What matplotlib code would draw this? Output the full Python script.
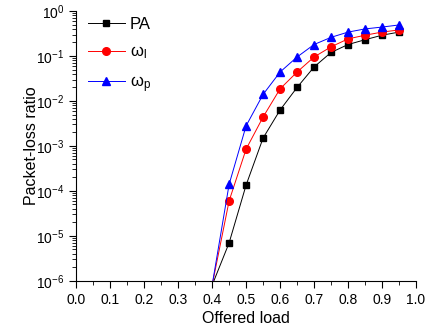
import matplotlib
matplotlib.use("Agg")
import matplotlib.pyplot as plt
from matplotlib.ticker import MultipleLocator

plt.rcParams['font.family'] = ['Liberation Sans', 'DejaVu Sans']
plt.rcParams['mathtext.fontset'] = 'custom'
plt.rcParams['mathtext.rm'] = 'Liberation Sans'
plt.rcParams['mathtext.it'] = 'Liberation Sans:italic'

# offered load
load = [0.40, 0.45, 0.50, 0.55, 0.60, 0.65, 0.70, 0.75, 0.80, 0.85, 0.90, 0.95]

# packet-loss ratio per scheme
pa = [8e-7, 7e-6, 1.35e-4, 1.5e-3, 6.3e-3, 0.020, 0.057, 0.12, 0.18, 0.23, 0.29, 0.34]
omega_l = [8e-7, 6e-5, 8.5e-4, 4.4e-3, 0.0186, 0.044, 0.095, 0.16, 0.24, 0.29, 0.34, 0.38]
omega_p = [8e-7, 1.4e-4, 2.8e-3, 0.014, 0.044, 0.095, 0.18, 0.26, 0.34, 0.40, 0.44, 0.49]

fig = plt.figure(figsize=(4.28, 3.34), dpi=100)
ax = fig.add_axes([0.178, 0.159, 0.794, 0.808])

ax.plot(load, pa, color='black', marker='s', markersize=5, lw=0.7, label='PA')
ax.plot(load, omega_l, color='red', marker='o', markersize=5.5, lw=0.7,
        label=r'$\mathrm{\omega_l}$')
ax.plot(load, omega_p, color='blue', marker='^', markersize=6, lw=0.7,
        label=r'$\mathrm{\omega_p}$')

ax.set_yscale('log')
ax.set_xlim(0, 1.0)
ax.set_ylim(1e-6, 1)
ax.xaxis.set_major_locator(MultipleLocator(0.1))
ax.xaxis.set_minor_locator(MultipleLocator(0.05))
ax.xaxis.set_major_formatter(plt.FormatStrFormatter('%.1f'))

ax.spines['top'].set_visible(False)
ax.spines['right'].set_visible(False)
ax.tick_params(which='both', direction='out', labelsize=10)
ax.tick_params(which='major', length=5)
ax.tick_params(which='minor', length=3)

ax.set_xlabel('Offered load', fontsize=11.5, labelpad=3)
ax.set_ylabel('Packet-loss ratio', fontsize=11.5)
ax.yaxis.set_label_coords(-0.11, 0.5)

ax.legend(loc='upper left', bbox_to_anchor=(0.0, 1.02), frameon=False,
          fontsize=12, handlelength=2.2, handletextpad=0.3,
          labelspacing=0.75, borderaxespad=0.3)

fig.savefig('out.png', dpi=100)
